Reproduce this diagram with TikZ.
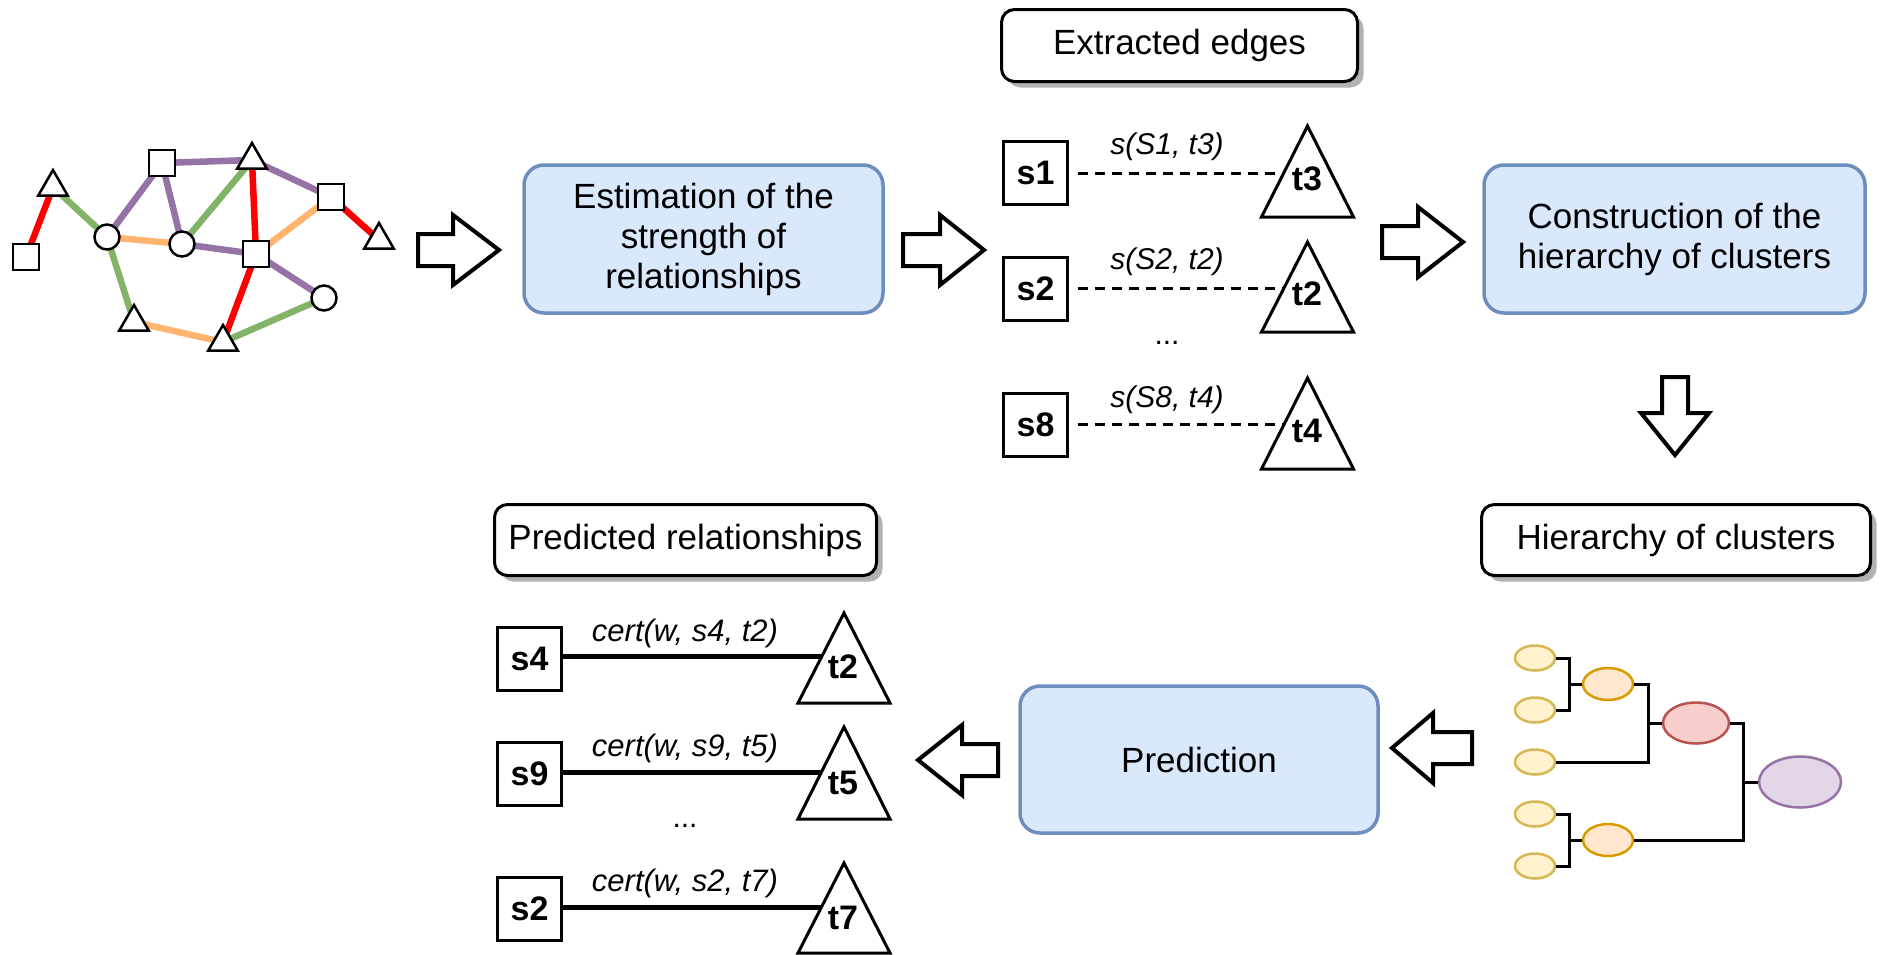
\documentclass[tikz,border=0pt]{standalone}
\usepackage{fontspec}
\setmainfont{Liberation Sans}
\usetikzlibrary{shapes.geometric,shadows,backgrounds,calc}

\definecolor{bluefill}{HTML}{DAE8FC}
\definecolor{blueline}{HTML}{6C8EBF}
\definecolor{edgered}{HTML}{FF0000}
\definecolor{edgegreen}{HTML}{82B366}
\definecolor{edgepurple}{HTML}{9673A6}
\definecolor{edgeorange}{HTML}{FFB570}
\definecolor{leaffill}{HTML}{FFF2CC}
\definecolor{leafline}{HTML}{D6B656}
\definecolor{midfill}{HTML}{FFE6CC}
\definecolor{midline}{HTML}{D79B00}
\definecolor{redfill}{HTML}{F8CECC}
\definecolor{redline}{HTML}{B85450}
\definecolor{rootfill}{HTML}{E1D5E7}
\definecolor{rootline}{HTML}{9673A6}

\tikzset{
  stage/.style={draw=blueline, fill=bluefill, line width=3.5pt, rounded corners=20pt,
    align=center, inner sep=0pt, font=\fontsize{35}{40}\selectfont},
  caption/.style={draw=black, fill=white, line width=3pt, rounded corners=13pt,
    inner sep=0pt, font=\fontsize{35}{40}\selectfont,
    drop shadow={shadow xshift=6pt, shadow yshift=-6pt, fill=black!30, opacity=1}},
  srcbox/.style={draw, fill=white, line width=3pt, minimum width=64pt, minimum height=63pt,
    inner sep=0pt, font=\fontsize{34}{34}\selectfont\bfseries},
  tgtlabel/.style={inner sep=0pt, font=\fontsize{34}{34}\selectfont\bfseries},
  simlabel/.style={inner sep=0pt, font=\fontsize{30}{30}\selectfont\itshape},
  certlabel/.style={inner sep=0pt, font=\fontsize{31}{31}\selectfont\itshape},
  dots/.style={inner sep=0pt, font=\fontsize{30}{30}\selectfont},
  bigtri/.style={draw, fill=white, line width=3pt, line join=miter},
  blockarrow/.style={draw, fill=white, line width=4pt, line join=miter},
  weak/.style={line width=3pt, dash pattern=on 10pt off 7pt},
  strong/.style={line width=5pt},
  gsq/.style={draw, fill=white, line width=2.5pt, minimum size=26pt, inner sep=0pt},
  gcirc/.style={circle, draw, fill=white, line width=2.5pt, minimum size=25pt, inner sep=0pt},
  gtri/.style={regular polygon, regular polygon sides=3, draw, fill=white, line width=2.5pt,
    minimum size=34pt, inner sep=0pt},
  gedge/.style={line width=6.5pt},
  leaf/.style={ellipse, draw=leafline, fill=leaffill, line width=2.5pt, minimum width=40pt, minimum height=25pt, inner sep=0pt},
  midc/.style={ellipse, draw=midline, fill=midfill, line width=2.5pt, minimum width=50pt, minimum height=32pt, inner sep=0pt},
  redc/.style={ellipse, draw=redline, fill=redfill, line width=2.5pt, minimum width=66pt, minimum height=41pt, inner sep=0pt},
  rootc/.style={ellipse, draw=rootline, fill=rootfill, line width=2.5pt, minimum width=82pt, minimum height=51pt, inner sep=0pt},
  dendro/.style={line width=3pt},
}

% block arrow along x: tail x, head base x, tip x, centre y
\newcommand{\hblock}[4]{%
  \draw[blockarrow] (#1,#4-16) -- (#2,#4-16) -- (#2,#4-35) -- (#3,#4)
    -- (#2,#4+35) -- (#2,#4+16) -- (#1,#4+16) -- cycle;}
% triangle: apex x, apex y, height
\newcommand{\tgttri}[3]{%
  \draw[bigtri] (#1,#2) -- (#1+46,#2+#3) -- (#1-46,#2+#3) -- cycle;}

\begin{document}
\begin{tikzpicture}[x=1pt,y=-1pt]
\useasboundingbox (0,0) rectangle (1881,954);

% ---------- input graph ----------
\node[gsq]   (A) at (26,257) {};
\node[gtri]  (B) at (53,187) {};
\node[gcirc] (C) at (107,237) {};
\node[gsq]   (D) at (162,163) {};
\node[gtri]  (E) at (252,160) {};
\node[gcirc] (F) at (182,244) {};
\node[gsq]   (G) at (256,254) {};
\node[gsq]   (H) at (331,197) {};
\node[gtri]  (I) at (379,240) {};
\node[gcirc] (J) at (324,298) {};
\node[gtri]  (K) at (134,322) {};
\node[gtri]  (L) at (223,342) {};
\begin{pgfonlayer}{background}
  \draw[gedge, edgered]    (A.center) -- (B.center);
  \draw[gedge, edgegreen]  (B.center) -- (C.center);
  \draw[gedge, edgepurple] (C.center) -- (D.center);
  \draw[gedge, edgeorange] (C.center) -- (F.center);
  \draw[gedge, edgegreen]  (C.center) -- (K.center);
  \draw[gedge, edgepurple] (D.center) -- (F.center);
  \draw[gedge, edgepurple] (D.center) -- (E.center);
  \draw[gedge, edgegreen]  (E.center) -- (F.center);
  \draw[gedge, edgered]    (E.center) -- (G.center);
  \draw[gedge, edgepurple] (E.center) -- (H.center);
  \draw[gedge, edgeorange] (H.center) -- (G.center);
  \draw[gedge, edgered]    (H.center) -- (I.center);
  \draw[gedge, edgepurple] (F.center) -- (G.center);
  \draw[gedge, edgepurple] (G.center) -- (J.center);
  \draw[gedge, edgered]    (G.center) -- (L.center);
  \draw[gedge, edgeorange] (K.center) -- (L.center);
  \draw[gedge, edgegreen]  (L.center) -- (J.center);
\end{pgfonlayer}

% ---------- process steps ----------
\node[stage, minimum width=359pt, minimum height=148pt] (est) at (703.5,239)
  {Estimation of the\\strength of\\relationships};
\node[stage, minimum width=381pt, minimum height=148pt] (cons) at (1674.5,239)
  {Construction of the\\hierarchy of clusters};
\node[stage, minimum width=358pt, minimum height=147pt] (pred) at (1199,759.5)
  {Prediction};

\hblock{418}{453}{499}{250}
\hblock{903}{940}{984}{250}
\hblock{1382}{1418}{1463}{242}
\hblock{998}{962}{918}{760}
\hblock{1472}{1433}{1392}{748}
\draw[blockarrow] (1662,377) -- (1688,377) -- (1688,413) -- (1709,413) -- (1675,455)
  -- (1641,413) -- (1662,413) -- cycle;

% ---------- extracted edges ----------
\node[caption, minimum width=356pt, minimum height=72pt] (ee) at (1179.5,45.5) {Extracted edges};

\node[srcbox] (s1) at (1035.5,173) {s1};
\node[srcbox] (s2) at (1035.5,288.5) {s2};
\node[srcbox] (s8) at (1035.5,424.5) {s8};
\tgttri{1307.5}{126}{91}
\tgttri{1307.5}{242}{90}
\tgttri{1307.5}{378}{91}
\node[tgtlabel] (t3) at (1307,179) {t3};
\node[tgtlabel] (t2) at (1307,294) {t2};
\node[tgtlabel] (t4) at (1307,431) {t4};
\coordinate (t3in) at (1284,173);
\coordinate (t2in) at (1284,288.5);
\coordinate (t4in) at (1284,424.5);
\draw[weak] ([xshift=9pt]s1.east) -- (t3in);
\draw[weak] ([xshift=9pt]s2.east) -- (t2in);
\draw[weak] ([xshift=9pt]s8.east) -- (t4in);
\node[simlabel] (l1) at (1167,147) {s(S1, t3)};
\node[simlabel] (l2) at (1167,262) {s(S2, t2)};
\node[simlabel] (l3) at (1167,400) {s(S8, t4)};
\node[dots] (d1) at (1167,343) {...};

% ---------- hierarchy of clusters ----------
\node[caption, minimum width=389pt, minimum height=71pt] (hc) at (1676,540) {Hierarchy of clusters};

\node[leaf] (L1) at (1535,658) {};
\node[leaf] (L2) at (1535,710) {};
\node[leaf] (L3) at (1535,762) {};
\node[leaf] (L4) at (1535,814) {};
\node[leaf] (L5) at (1535,866) {};
\node[midc] (M1) at (1608,684) {};
\node[midc] (M2) at (1608,840) {};
\node[redc] (R)  at (1696,723) {};
\node[rootc] (P) at (1800,782) {};
\coordinate (j1) at (1569,684);
\coordinate (j2) at (1648,723);
\coordinate (j3) at (1569,840);
\coordinate (j4) at (1743,782);
\draw[dendro] (L1.east) -| (j1) -- (M1.west);
\draw[dendro] (L2.east) -| (j1);
\draw[dendro] (M1.east) -| (j2) -- (R.west);
\draw[dendro] (L3.east) -| (j2);
\draw[dendro] (L4.east) -| (j3) -- (M2.west);
\draw[dendro] (L5.east) -| (j3);
\draw[dendro] (R.east) -| (j4) -- (P.west);
\draw[dendro] (M2.east) -| (j4);

% ---------- predicted relationships ----------
\node[caption, minimum width=382pt, minimum height=71pt] (pr) at (685.5,540) {Predicted relationships};

\node[srcbox] (s4) at (529.5,659) {s4};
\node[srcbox] (s9) at (529.5,774) {s9};
\node[srcbox] (s2b) at (529.5,908.5) {s2};
\tgttri{844}{613}{90}
\tgttri{844}{727}{92}
\tgttri{844}{863}{90}
\node[tgtlabel] (t2b) at (843,667) {t2};
\node[tgtlabel] (t5) at (843,783) {t5};
\node[tgtlabel] (t7) at (843,918) {t7};
\coordinate (t2bin) at (822,656);
\coordinate (t5in) at (821.5,772);
\coordinate (t7in) at (821.5,907);
\draw[strong] (s4.east |- t2bin) -- (t2bin);
\draw[strong] (s9.east |- t5in) -- (t5in);
\draw[strong] (s2b.east |- t7in) -- (t7in);
\node[certlabel] (c1) at (685,633) {cert(w, s4, t2)};
\node[certlabel] (c2) at (685,748) {cert(w, s9, t5)};
\node[certlabel] (c3) at (685,883) {cert(w, s2, t7)};
\node[dots] (d2) at (685,826) {...};

\end{tikzpicture}
\end{document}
